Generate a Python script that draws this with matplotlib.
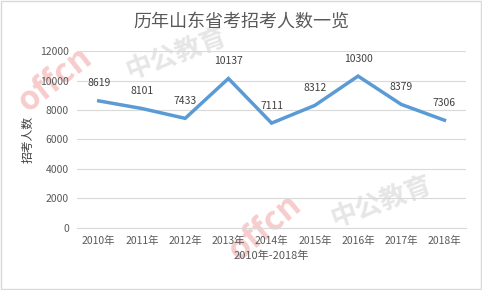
import matplotlib.pyplot as plt
import numpy as np

plt.rcParams['font.family'] = ['Noto Sans CJK SC', 'DejaVu Sans']

years = ['2010年', '2011年', '2012年', '2013年', '2014年', '2015年', '2016年', '2017年', '2018年']
counts = [8619, 8101, 7433, 10137, 7111, 8312, 10300, 8379, 7306]

fig = plt.figure(figsize=(4.82, 2.9), dpi=100)
ax = fig.add_axes([0.16, 0.214, 0.807, 0.61])
ax.set_facecolor('none')

x = np.arange(len(years))
ax.plot(x, counts, color='#5B9BD5', lw=2.5, solid_joinstyle='miter', zorder=3)
for xi, v in zip(x, counts):
    ax.annotate(str(v), (xi, v), xytext=(0, 9), textcoords='offset points',
                ha='center', va='bottom', fontsize=7.5, color='#404040')

ax.set_xlim(-0.5, len(years) - 0.5)
ax.set_ylim(0, 12000)
ax.set_yticks(range(0, 12001, 2000))
ax.set_xticks(x)
ax.set_xticklabels(years)
ax.grid(axis='y', color='#d9d9d9', lw=0.8)
ax.set_axisbelow(True)
for s in ['top', 'right', 'left']:
    ax.spines[s].set_visible(False)
ax.spines['bottom'].set_color('#d9d9d9')
ax.tick_params(length=0, labelsize=7.5, colors='#595959', pad=6)
ax.set_xlabel('2010年-2018年', fontsize=8, color='#595959', labelpad=3)
ax.set_ylabel('招考人数', fontsize=8.5, color='#404040', labelpad=4)
fig.suptitle('历年山东省考招考人数一览', fontsize=13, color='#595959', y=0.955)

# watermark (faint, behind the chart)
wm = [(55, 80, 'offcn', 24, '#f7cccc', 38),
      (177, 55, '中公教育', 19, '#e6e6e6', 20),
      (265, 228, 'offcn', 24, '#f7cccc', 40),
      (382, 203, '中公教育', 19, '#e6e6e6', 20)]
for px, py, txt, fs, col, rot in wm:
    fig.text(px / 482, 1 - py / 290, txt, fontsize=fs, color=col, rotation=rot,
             ha='center', va='center', fontweight='bold', zorder=-1)

fig.patches.append(plt.Rectangle((0.002, 0.003), 0.995, 0.994, transform=fig.transFigure,
                                 fill=False, edgecolor='#d9d9d9', lw=1))
fig.savefig('out.png', dpi=100)
